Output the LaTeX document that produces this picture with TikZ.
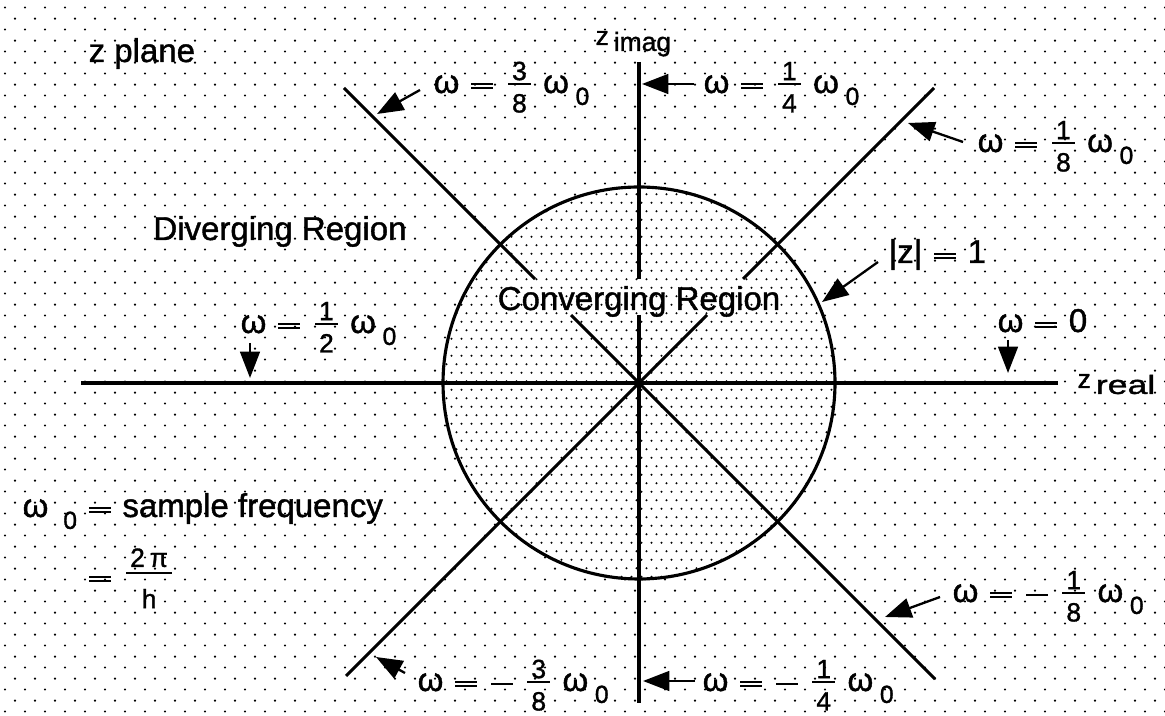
\documentclass[tikz,border=0pt]{standalone}
\usepackage{fontspec}
\setmainfont{Liberation Sans}[FakeBold=1.2,AutoFakeBold=1.2]
\newfontfamily\plotfont{Liberation Sans}[FakeBold=1.2]
\usepackage{graphicx}
\usetikzlibrary{arrows.meta,patterns}

\pgfdeclarepatternformonly{outerdots}{\pgfqpoint{0pt}{0pt}}{\pgfqpoint{6.06pt}{6.79pt}}{\pgfqpoint{6.06pt}{6.79pt}}{%
 \pgfpathcircle{\pgfqpoint{1.515pt}{1.697pt}}{0.36pt}%
 \pgfpathcircle{\pgfqpoint{4.545pt}{5.091pt}}{0.36pt}%
 \pgfusepath{fill}}
\pgfdeclarepatternformonly{innerdots}{\pgfqpoint{0pt}{0pt}}{\pgfqpoint{3.03pt}{5.15pt}}{\pgfqpoint{3.03pt}{5.15pt}}{%
 \pgfpathcircle{\pgfqpoint{0.757pt}{1.288pt}}{0.33pt}%
 \pgfpathcircle{\pgfqpoint{2.273pt}{3.863pt}}{0.33pt}%
 \pgfusepath{fill}}

% general fraction: #1 numerator raise, #2 bar height, #3 denominator lower
\newcommand\frg[5]{{\fontsize{8}{9}\selectfont
 \setbox0=\hbox{#4}\setbox2=\hbox{#5}%
 \dimen0=\wd0 \ifdim\wd2>\dimen0 \dimen0=\wd2 \fi
 \advance\dimen0 by 2.4pt
 \kern1pt\rlap{\raise#1\hbox to\dimen0{\hss\box0\hss}}%
 \rlap{\lower#3\hbox to\dimen0{\hss\box2\hss}}%
 \vrule width\dimen0 height\dimexpr#2+0.35pt\relax depth\dimexpr-#2+0.35pt\relax\kern1pt}}
\newcommand\fr[2]{\frg{3.9pt}{2.8pt}{5.9pt}{#1}{#2}}
\newcommand\sub{\raisebox{-3.6pt}{\fontsize{7.5}{8}\selectfont 0}}
\newcommand\omo{ω\kern2pt\sub}
% heavy equals and minus signs
\newcommand\eq{\kern0.8pt\rlap{\vrule width6.6pt height3.0pt depth-2.35pt}\vrule width6.6pt height1.75pt depth-1.1pt\kern0.8pt}
\newcommand\mi{\kern0.8pt\vrule width6.6pt height2.45pt depth-1.8pt\kern0.8pt}

\begin{document}
\begin{tikzpicture}[x=0.30303pt,y=-0.30303pt,
  ln/.style={line width=0.95pt},
  arr/.style={line width=0.7pt,-{Triangle[length=8pt,width=6pt]}},
  lbl/.style={anchor=base west,inner sep=0pt,font=\fontsize{10}{12}\selectfont},
  ax/.style={anchor=base west,inner sep=0pt,font=\fontsize{8}{10}\selectfont}]
\useasboundingbox (0,0) rectangle (1165,716);
\fill[white] (0,0) rectangle (1165,716);
\fill[pattern=outerdots,even odd rule] (0,0) rectangle (1165,716) (639,383) circle[radius=59.39pt];
\fill[pattern=innerdots] (639,383) circle[radius=59.39pt];

% geometry
\coordinate (c) at (639,383);
\coordinate (xl) at (81,383); \coordinate (xr) at (1058,383);
\coordinate (yt) at (639,62); \coordinate (yg1) at (639,279);
\coordinate (yg2) at (639,315); \coordinate (yb) at (639,703);
\coordinate (ul) at (344,88); \coordinate (ulg) at (535,279);
\coordinate (ulg2) at (571,315); \coordinate (lr) at (935,679);
\coordinate (ur) at (934,88); \coordinate (urg) at (743,279);
\coordinate (urg2) at (707,315); \coordinate (ll) at (346,676);

\draw[ln] (xl) -- (xr);
\draw[ln] (yt) -- (yg1);
\draw[ln] (yg2) -- (yb);
\draw[ln] (ul) -- (ulg);
\draw[ln] (ulg2) -- (lr);
\draw[ln] (ur) -- (urg);
\draw[ln] (urg2) -- (ll);
\draw[ln] (c) circle[radius=59.39pt];

% texts
\node[lbl] (zplane) at (88,62) {z plane};
\node[ax] (zimag) at (595,45) {z\kern1.5pt\raisebox{-1.8pt}{imag}};
\node[ax] (zreal) at (1077,388) {z\kern1.5pt\raisebox{-1.8pt}{\scalebox{1.35}[1]{real}}};
\node[lbl,anchor=base] (div) at (280,240) {Diverging Region};
\node[lbl,anchor=base] (conv) at (639,310) {Converging Region};

\node[lbl] (l1) at (433,93) {ω \eq{} \fr{3}{8} \omo};
\node[lbl] (l2) at (703,93) {ω \eq{} \fr{1}{4} \omo};
\node[lbl] (l3) at (977,152) {ω \eq{} \fr{1}{8} \omo};
\node[lbl] (lz) at (888,263) {|z| \eq{} 1};
\node[lbl] (l5) at (240,333) {ω \eq{} \fr{1}{2} \omo};
\node[lbl] (l6) at (997,332) {ω \eq{} 0};
\node[lbl] (l7) at (952,602) {ω \eq{} \mi\kern2.5pt\fr{1}{8} \omo};
\node[lbl] (l8) at (702,691) {ω \eq{} \mi\kern2.5pt\fr{1}{4} \omo};
\node[lbl] (l9) at (417,691) {ω \eq{} \mi\kern2.5pt\fr{3}{8} \omo};

\node[lbl] (defw) at (22,517) {ω\kern4.5pt\sub{} \eq{} sample frequency};
\node[lbl] (defw2) at (86,586) {\eq{} \frg{5.8pt}{3.9pt}{6.7pt}{2\kern1.5ptπ}{h}};

% arrows
\coordinate (t1) at (420,90);  \coordinate (h1) at (377,114);
\coordinate (t2) at (694,84);  \coordinate (h2) at (642,84);
\coordinate (t3) at (963,142); \coordinate (h3) at (908,123);
\coordinate (t4) at (878,262); \coordinate (h4) at (822,302);
\coordinate (t5) at (250,343); \coordinate (h5) at (250,378);
\coordinate (t6) at (1008,340); \coordinate (h6) at (1008,373);
\coordinate (t7) at (940,597); \coordinate (h7) at (885,617);
\coordinate (t8) at (695,681); \coordinate (h8) at (643,681);
\coordinate (t9) at (405,673); \coordinate (h9) at (376,657);
\foreach \i in {1,...,9} {\draw[arr] (t\i) -- (h\i);}
\end{tikzpicture}
\end{document}
